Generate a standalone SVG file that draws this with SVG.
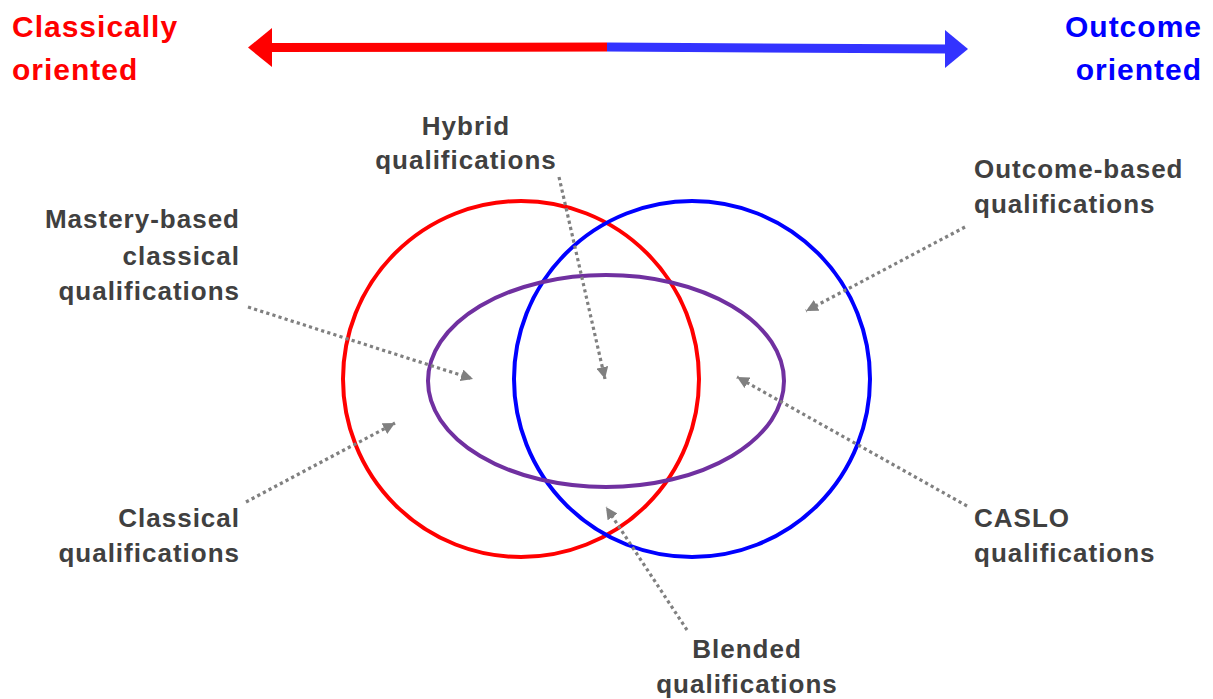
<svg xmlns="http://www.w3.org/2000/svg" width="1213" height="699" viewBox="0 0 1213 699">
<style>
.lbl{font-family:"Liberation Sans",Arial,sans-serif;font-weight:bold;font-size:26px;letter-spacing:1px;fill:#404040}
.hdr{font-family:"Liberation Sans",Arial,sans-serif;font-weight:bold;font-size:30px;letter-spacing:1px}
.dot{fill:none;stroke:#808080;stroke-width:3.2;stroke-dasharray:3.2 3.2}
</style>
<defs>
<marker id="ah" markerUnits="userSpaceOnUse" markerWidth="14" markerHeight="12" refX="12" refY="6" orient="auto">
<path d="M0,0 L12,6 L0,12 Z" fill="#808080"/>
</marker>
</defs>
<g id="axis">
<line x1="268" y1="47.5" x2="607" y2="47" stroke="#FF0000" stroke-width="9"/>
<polygon points="248,47.5 272,28 272,67" fill="#FF0000"/>
<line x1="607" y1="47" x2="948" y2="49" stroke="#3333FF" stroke-width="9"/>
<polygon points="968,49 945,30 945,68" fill="#3333FF"/>
</g>
<g id="classical-oriented"><text class="hdr" fill="#FF0000"><tspan x="12" y="37">Classically</tspan><tspan x="12" y="80">oriented</tspan></text></g>
<g id="outcome-oriented"><text class="hdr" fill="#0000FF" text-anchor="end"><tspan x="1202" y="37">Outcome</tspan><tspan x="1202" y="80">oriented</tspan></text></g>
<g id="red-circle"><circle cx="521" cy="379" r="178" fill="none" stroke="#FF0000" stroke-width="4"/></g>
<g id="blue-circle"><circle cx="692" cy="379" r="178" fill="none" stroke="#0000FF" stroke-width="4"/></g>
<g id="purple-ellipse"><ellipse cx="606" cy="381" rx="178" ry="106" fill="none" stroke="#7030A0" stroke-width="4"/></g>
<g id="connectors">
<line class="dot" x1="559" y1="177" x2="605" y2="379" marker-end="url(#ah)"/>
<line class="dot" x1="248" y1="307" x2="473" y2="379" marker-end="url(#ah)"/>
<line class="dot" x1="965" y1="227" x2="806" y2="311" marker-end="url(#ah)"/>
<line class="dot" x1="967" y1="506" x2="737" y2="377" marker-end="url(#ah)"/>
<line class="dot" x1="246" y1="502" x2="395" y2="423" marker-end="url(#ah)"/>
<line class="dot" x1="687" y1="630" x2="606" y2="507" marker-end="url(#ah)"/>
</g>
<g id="hybrid"><text class="lbl" text-anchor="middle"><tspan x="466" y="135">Hybrid</tspan><tspan x="466" y="169">qualifications</tspan></text></g>
<g id="outcome-based"><text class="lbl"><tspan x="974" y="178">Outcome-based</tspan><tspan x="974" y="213">qualifications</tspan></text></g>
<g id="mastery-based"><text class="lbl" text-anchor="end"><tspan x="240" y="228">Mastery-based</tspan><tspan x="240" y="265">classical</tspan><tspan x="240" y="300">qualifications</tspan></text></g>
<g id="classical"><text class="lbl" text-anchor="end"><tspan x="240" y="527">Classical</tspan><tspan x="240" y="562">qualifications</tspan></text></g>
<g id="caslo"><text class="lbl"><tspan x="974" y="527">CASLO</tspan><tspan x="974" y="562">qualifications</tspan></text></g>
<g id="blended"><text class="lbl" text-anchor="middle"><tspan x="747" y="658">Blended</tspan><tspan x="747" y="693">qualifications</tspan></text></g>
</svg>
